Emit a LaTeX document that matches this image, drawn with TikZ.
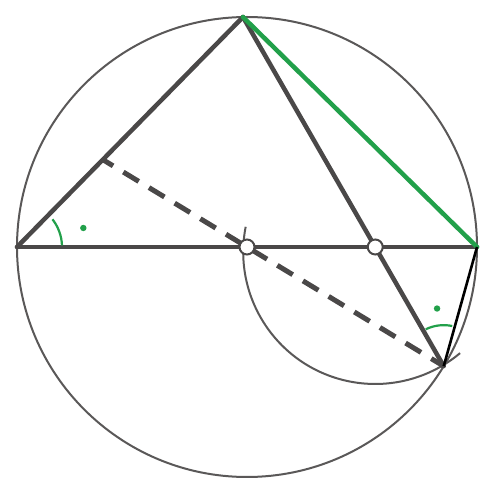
\documentclass[tikz,border=0pt]{standalone}
\usetikzlibrary{calc}
\definecolor{ink}{HTML}{5A5858}
\definecolor{inkdark}{HTML}{4A4848}
\definecolor{geo}{HTML}{22A04A}
\begin{document}
\begin{tikzpicture}[x=1pt,y=1pt,
  thinline/.style={draw=ink,line width=2pt},
  thickline/.style={draw=inkdark,line width=4.5pt,line cap=round},
  dashline/.style={draw=inkdark,line width=5pt,dash pattern=on 18pt off 12pt,dash phase=6pt},
  greenline/.style={draw=geo,line width=4.5pt,line cap=round},
  blackline/.style={draw=black,line width=2.6pt},
  marker/.style={draw=geo,line width=2.2pt},
  gdot/.style={fill=geo},
  hole/.style={circle,draw=inkdark,line width=2pt,fill=white,minimum size=15pt,inner sep=0pt}]
\useasboundingbox (0,0) rectangle (493,493);
\fill[white] (0,0) rectangle (493,493);
\coordinate (M) at (247,246);
\coordinate (A) at ($(M)+(180:230)$);
\coordinate (B) at ($(M)+(0:230)$);
\coordinate (C) at ($(M)+(91:230)$);
\coordinate (D) at ($(M)+(-31.2:230)$);
\coordinate (E) at (intersection of A--B and C--D);
\coordinate (F) at (intersection of A--C and D--M);
\coordinate (K) at ($(E)+(0,-5)$);
% main circle
\draw[thinline] (M) circle[radius=230];
% compass arc
\draw[thinline] ($(K)+(169:132)$) arc[start angle=169,end angle=310,radius=132];
% triangle sides
\draw[thickline] (A) -- (B);
\draw[thickline] (A) -- (C);
\draw[thickline] (C) -- (D);
\draw[dashline] (F) -- (D);
\draw[greenline] (C) -- (B);
\draw[blackline] (B) -- (D);
% small circles
\node[hole] (O) at (M) {};
\node[hole] (Ec) at (E) {};
% angle marks
\draw[marker] ($(A)+(2:45)$) arc[start angle=2,end angle=38,radius=45];
\fill[gdot] ($(A)+(16:69)$) circle[radius=3.2];
\draw[marker] ($(D)+(78:41)$) arc[start angle=78,end angle=116,radius=41];
\fill[gdot] ($(D)+(96.6:58)$) circle[radius=3.2];
\end{tikzpicture}
\end{document}
